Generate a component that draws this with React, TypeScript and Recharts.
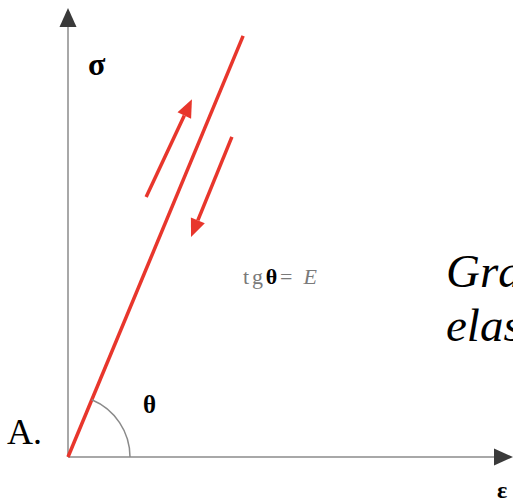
import { LineChart, Line, XAxis, YAxis, ReferenceLine, ReferenceDot } from "recharts";

// stress-strain line (strain, stress) in arbitrary units
const strain = [0, 3.9];
const stress = [0, 9.38];

// axis arrows: [x1, y1, x2, y2]
const axisSegments = [
  [0, 0, 9.91, 0],
  [0, 0, 0, 10],
];

// loading / unloading arrows: [x1, y1, x2, y2]
const loadArrows = [
  [1.74, 5.79, 2.76, 7.97],
  [3.65, 7.13, 2.74, 4.9],
];

const RED = "#e8362c";
const AXIS = "#a8a8a8";

const data = strain.map((x, i) => ({ x, y: stress[i] }));

function arrowShape(color: string, width: number, headLen: number, headW: number, headColor?: string) {
  return (props: any) => {
    const { x1, y1, x2, y2 } = props;
    const a = Math.atan2(y2 - y1, x2 - x1);
    const bx = x2 - headLen * Math.cos(a);
    const by = y2 - headLen * Math.sin(a);
    const px = (-Math.sin(a) * headW) / 2;
    const py = (Math.cos(a) * headW) / 2;
    return (
      <g>
        <line x1={x1} y1={y1} x2={bx} y2={by} stroke={color} strokeWidth={width} />
        <polygon
          points={`${x2},${y2} ${bx + px},${by + py} ${bx - px},${by - py}`}
          fill={headColor || color}
        />
      </g>
    );
  };
}

const thetaArc = (props: any) => {
  const { cx, cy } = props;
  const r = 62;
  const t = Math.atan2(stress[1], strain[1]);
  const ex = cx + r * Math.cos(t);
  const ey = cy - r * Math.sin(t);
  return (
    <path
      d={`M ${cx + r} ${cy} A ${r} ${r} 0 0 0 ${ex} ${ey}`}
      fill="none"
      stroke="#8a8a8a"
      strokeWidth={1.5}
    />
  );
};

const serif = "'Liberation Serif', 'Times New Roman', serif";

export default function App() {
  return (
    <div
      style={{
        position: "fixed",
        left: 0,
        top: 0,
        width: 513,
        height: 500,
        overflow: "hidden",
        background: "#fff",
      }}
    >
      <LineChart width={513} height={500} data={data} margin={{ top: 8, right: 0, bottom: 43, left: 68 }}>
        <XAxis type="number" dataKey="x" domain={[0, 9.91]} hide />
        <YAxis type="number" domain={[0, 10]} hide />
        {axisSegments.map((s, i) => (
          <ReferenceLine
            key={`ax-${i}`}
            segment={[{ x: s[0], y: s[1] }, { x: s[2], y: s[3] }]}
            ifOverflow="visible"
            shape={arrowShape(AXIS, 2, 19, 17, "#3a3a3a")}
          />
        ))}
        <Line
          dataKey="y"
          stroke={RED}
          strokeWidth={3.5}
          dot={false}
          isAnimationActive={false}
        />
        {loadArrows.map((s, i) => (
          <ReferenceLine
            key={`ar-${i}`}
            segment={[{ x: s[0], y: s[1] }, { x: s[2], y: s[3] }]}
            ifOverflow="visible"
            shape={arrowShape(RED, 3.5, 18, 15)}
          />
        ))}
        <ReferenceDot x={0} y={0} ifOverflow="visible" shape={thetaArc} />
      </LineChart>
      <svg
        width={513}
        height={500}
        style={{ position: "absolute", left: 0, top: 0, pointerEvents: "none" }}
        fontFamily={serif}
      >
        <text x={88} y={75} fontSize={32} fontWeight="bold">σ</text>
        <text x={143} y={413} fontSize={25} fontWeight="bold">θ</text>
        <text x={7} y={444} fontSize={36}>A.</text>
        <text x={243} y={284} fontSize={22} fill="#7a7a7a" letterSpacing={2.8}>
          tg<tspan fill="#000" fontWeight="bold">θ</tspan>= <tspan fontStyle="italic">E</tspan>
        </text>
        <text x={446} y={287} fontSize={47} fontStyle="italic">Gra</text>
        <text x={446} y={341} fontSize={47} fontStyle="italic">elas</text>
        <text x={497} y={498} fontSize={24} fontWeight="bold">ε</text>
      </svg>
    </div>
  );
}
